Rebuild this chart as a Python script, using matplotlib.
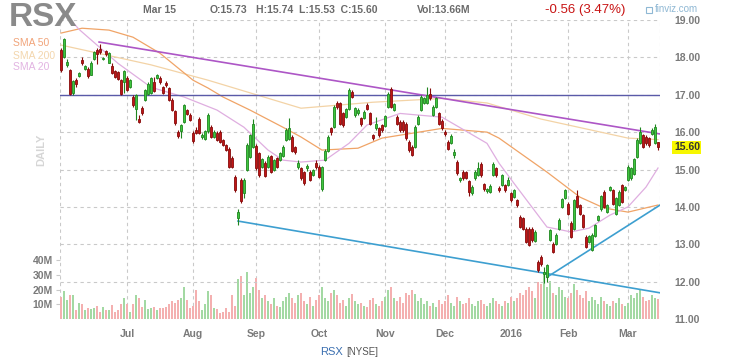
import matplotlib
matplotlib.use("Agg")
import matplotlib.pyplot as plt
from matplotlib.patches import Rectangle
import numpy as np

plt.rcParams["font.family"] = ["Liberation Sans", "DejaVu Sans"]

W, H = 734, 364

# daily candles, 2015-06-01 .. 2016-03-15 (index = trading day)
opens = [18.19, 18.01, 17.80, 17.65, 17.05, 17.40, 17.50, 17.94, 17.70, 17.70,
         17.54, 17.96, 18.19, 18.23, 17.95, 18.16, 17.86, 17.77, 17.63, 17.61,
         17.39, 17.34, 17.46, 17.21, 16.94, 16.63, 16.36, 16.65, 16.87, 17.03,
         17.06, 17.35, 17.46, 17.45, 17.20, 17.32, 17.19, 16.87, 16.56, 16.00,
         16.02, 16.28, 16.59, 16.45, 15.98, 16.07, 16.35, 15.88, 15.82, 16.02,
         16.15, 15.88, 15.97, 16.01, 15.79, 15.65, 15.56, 15.30, 14.81, 13.70,
         14.72, 14.36, 15.00, 15.34, 15.61, 15.63, 15.43, 15.08, 15.17, 15.08,
         15.36, 15.00, 15.30, 15.25, 15.36, 15.79, 15.81, 15.88, 15.59, 15.08,
         15.03, 14.92, 15.03, 14.94, 14.85, 15.17, 15.08, 14.47, 15.25, 15.50,
         16.10, 16.15, 16.79, 16.77, 16.50, 16.41, 16.63, 17.08, 16.45, 16.50,
         16.37, 16.37, 16.72, 16.50, 15.92, 16.10, 16.10, 16.19, 16.16, 16.68,
         17.16, 16.60, 16.41, 16.28, 16.28, 16.23, 15.74, 15.61, 15.61, 16.23,
         16.59, 16.77, 16.77, 17.03, 16.47, 16.68, 16.50, 16.30, 16.01, 15.74,
         15.70, 15.40, 15.21, 14.72, 14.94, 14.92, 14.69, 14.36, 14.76, 14.85,
         15.16, 14.60, 14.42, 14.40, 14.85, 15.03, 14.51, 14.58, 14.58, 14.58,
         14.36, 14.27, 14.18, 13.74, 13.69, 13.42, 13.42, 13.42, 13.09, 12.53,
         12.67, 12.20, 12.13, 13.11, 13.02, 13.02, 13.40, 14.00, 14.23, 14.09,
         13.58, 13.42, 14.29, 14.05, 13.78, 13.20, 13.07, 12.85, 13.22, 13.65,
         13.93, 14.40, 13.87, 14.45, 14.45, 13.82, 14.05, 14.58, 14.45, 14.72,
         14.76, 14.88, 15.34, 15.70, 15.92, 15.88, 15.83, 15.96, 15.70, 15.73]
highs = [18.25, 18.52, 17.95, 17.70, 17.40, 17.45, 17.62, 18.00, 17.80, 17.74,
         17.90, 18.17, 18.24, 18.35, 18.00, 18.20, 18.15, 17.86, 17.66, 17.64,
         17.42, 17.67, 17.50, 17.42, 16.98, 17.02, 16.45, 16.70, 17.16, 17.33,
         17.48, 17.48, 17.55, 17.49, 17.24, 17.36, 17.22, 16.90, 16.60, 16.05,
         16.22, 16.76, 16.63, 16.50, 16.02, 16.15, 16.40, 15.97, 16.05, 16.50,
         16.20, 16.05, 16.02, 16.06, 15.82, 15.68, 15.60, 15.35, 14.85, 13.95,
         14.78, 14.76, 15.70, 15.96, 16.34, 15.68, 15.48, 15.32, 15.22, 15.38,
         15.40, 15.29, 15.34, 15.47, 15.65, 16.10, 16.37, 15.92, 15.63, 15.25,
         15.07, 14.96, 15.15, 14.98, 15.02, 15.25, 15.12, 15.10, 15.54, 15.92,
         16.15, 16.72, 16.83, 16.81, 16.54, 16.65, 17.17, 17.12, 16.68, 16.64,
         16.41, 16.58, 16.77, 16.54, 15.95, 16.40, 16.14, 16.23, 16.47, 17.07,
         17.20, 16.78, 16.45, 16.32, 16.32, 16.27, 15.78, 15.65, 16.18, 16.45,
         16.99, 16.94, 17.21, 17.17, 16.72, 16.94, 16.54, 16.34, 16.05, 15.78,
         15.94, 15.55, 15.25, 14.80, 14.98, 14.96, 14.73, 14.58, 14.98, 15.19,
         15.20, 14.64, 14.51, 14.60, 15.20, 15.07, 14.55, 14.89, 14.62, 14.81,
         14.40, 14.49, 14.22, 13.78, 13.73, 13.46, 13.46, 13.46, 13.37, 12.57,
         12.71, 12.40, 12.48, 13.42, 13.06, 13.29, 13.69, 14.24, 14.49, 14.13,
         13.62, 14.22, 14.45, 14.09, 13.82, 13.24, 13.26, 13.29, 13.55, 13.79,
         14.33, 14.44, 14.09, 14.56, 14.49, 14.27, 14.44, 14.62, 14.56, 15.11,
         15.08, 15.31, 15.83, 16.14, 15.96, 15.92, 15.87, 16.11, 16.23, 15.74]
lows = [17.62, 17.98, 17.75, 16.98, 16.99, 17.22, 17.47, 17.80, 17.66, 17.46,
        17.52, 17.92, 17.83, 18.10, 17.93, 18.05, 17.84, 17.56, 17.45, 17.40,
        17.00, 17.05, 17.10, 17.18, 16.68, 16.32, 16.25, 16.46, 16.84, 17.00,
        17.03, 17.07, 17.43, 17.30, 17.01, 17.22, 16.84, 16.57, 16.20, 15.85,
        15.85, 16.25, 16.45, 16.29, 15.72, 15.95, 15.95, 15.82, 15.78, 15.98,
        15.85, 15.85, 15.76, 15.70, 15.62, 15.49, 15.03, 15.03, 14.40, 13.52,
        14.10, 14.25, 14.95, 15.30, 15.58, 14.98, 14.80, 15.05, 14.80, 15.05,
        14.90, 14.96, 15.05, 15.22, 15.33, 15.76, 15.78, 15.46, 15.42, 15.02,
        14.72, 14.58, 14.95, 14.68, 14.82, 15.02, 14.77, 14.43, 15.22, 15.47,
        15.92, 16.12, 16.62, 16.19, 16.15, 16.38, 16.60, 16.91, 16.40, 16.47,
        16.17, 16.34, 16.59, 16.19, 15.78, 16.07, 15.88, 16.01, 16.13, 16.65,
        16.64, 16.57, 16.19, 16.01, 16.01, 15.79, 15.48, 15.35, 15.58, 16.20,
        16.56, 16.74, 16.74, 16.86, 16.44, 16.65, 16.19, 16.06, 15.90, 15.52,
        15.67, 15.30, 14.86, 14.66, 14.72, 14.74, 14.30, 14.32, 14.73, 14.82,
        14.81, 14.43, 14.36, 14.37, 14.82, 14.81, 14.41, 14.55, 14.41, 14.55,
        14.14, 14.24, 14.01, 13.43, 13.38, 13.03, 12.94, 13.07, 13.06, 12.27,
        12.43, 11.95, 12.00, 13.08, 12.76, 12.99, 13.37, 13.97, 14.20, 13.78,
        13.16, 13.39, 13.96, 13.78, 13.43, 12.89, 13.04, 12.82, 13.19, 13.62,
        13.90, 13.96, 13.84, 14.42, 14.05, 13.79, 14.02, 14.10, 14.42, 14.69,
        14.72, 14.85, 15.31, 15.67, 15.57, 15.66, 15.61, 15.93, 15.67, 15.53]
closes = [17.67, 18.50, 17.88, 17.03, 17.38, 17.28, 17.58, 17.85, 17.77, 17.49,
          17.86, 18.14, 18.10, 18.14, 17.97, 18.08, 18.12, 17.59, 17.48, 17.43,
          17.03, 17.64, 17.14, 17.39, 16.72, 17.00, 16.28, 16.50, 17.13, 17.30,
          17.46, 17.10, 17.52, 17.33, 17.04, 17.25, 16.87, 16.60, 16.24, 15.90,
          16.19, 16.72, 16.48, 16.32, 15.75, 15.98, 15.98, 15.93, 16.02, 16.45,
          15.88, 16.01, 15.79, 15.74, 15.65, 15.52, 15.07, 15.07, 14.45, 13.87,
          14.15, 14.72, 15.65, 15.92, 16.23, 15.03, 14.85, 15.27, 14.83, 15.33,
          14.94, 15.25, 15.08, 15.43, 15.61, 16.06, 16.10, 15.50, 15.46, 15.18,
          14.76, 14.63, 15.09, 14.72, 14.98, 15.06, 14.81, 15.07, 15.50, 15.88,
          16.01, 16.68, 16.66, 16.23, 16.19, 16.61, 17.13, 16.95, 16.65, 16.60,
          16.21, 16.54, 16.63, 16.23, 15.85, 16.23, 15.92, 16.05, 16.43, 17.03,
          16.68, 16.74, 16.23, 16.05, 16.05, 15.83, 15.52, 15.39, 16.14, 16.41,
          16.95, 16.90, 16.99, 16.90, 16.68, 16.90, 16.23, 16.10, 15.94, 15.56,
          15.90, 15.47, 14.90, 14.76, 14.76, 14.78, 14.39, 14.54, 14.94, 15.03,
          14.85, 14.47, 14.47, 14.56, 15.16, 14.85, 14.45, 14.85, 14.45, 14.72,
          14.18, 14.45, 14.05, 13.47, 13.42, 13.07, 12.98, 13.11, 13.33, 12.31,
          12.47, 12.26, 12.44, 13.38, 12.80, 13.25, 13.65, 14.20, 14.45, 13.82,
          13.20, 14.18, 14.00, 13.82, 13.47, 12.93, 13.22, 13.25, 13.51, 13.75,
          14.29, 14.00, 14.05, 14.52, 14.09, 14.23, 14.40, 14.14, 14.52, 15.07,
          15.04, 15.27, 15.79, 16.01, 15.61, 15.70, 15.65, 16.07, 16.14, 15.60]
volumes = [15, 19, 13, 16, 16, 6, 11, 10, 6, 7.5,
           7, 7.5, 9, 5, 8.5, 6, 6, 9.5, 5, 6,
           10, 14, 10, 5, 10, 16.5, 14, 8.5, 13, 7,
           7.5, 8.5, 6, 7.5, 7.5, 8, 10, 12, 11, 13,
           14, 21.5, 13, 7.5, 9, 20, 12.5, 6, 10, 19,
           16.5, 7.5, 7, 4, 5, 7.5, 5, 16.5, 9, 27,
           29, 16, 32, 18, 22, 28, 20, 14, 16, 12,
           10, 14, 9, 8, 12, 15, 18, 14, 11, 16,
           18, 12, 10, 15, 9, 13, 16, 22, 14, 12,
           18, 20, 16, 11, 13, 9, 14, 17, 12, 10,
           11, 9, 8, 13, 14, 10, 9, 12, 15, 20,
           22, 14, 12, 15, 11, 18, 16, 20, 17, 12,
           14, 10, 12, 9, 11, 8, 13, 10, 12, 16,
           11, 9, 15, 12, 10, 11, 14, 10, 9, 12,
           13, 10, 9, 11, 14, 12, 10, 9, 12, 11,
           15, 12, 14, 18, 16, 20, 22, 19, 14, 25,
           24, 30, 22, 26, 18, 16, 22, 20, 15, 14,
           18, 24, 20, 16, 14, 19, 12, 15, 13, 10,
           15, 12, 10, 9, 12, 11, 14, 10, 9, 11,
           16, 14, 18, 20, 15, 12, 13, 16, 14, 13.66]

# moving averages (index, value)
sma50_idx = [0, 7, 16, 24, 33, 44, 49, 54, 63, 74, 80, 87, 99, 107, 127, 142, 146, 162, 173, 181, 189, 199]
sma50_val = [18.65, 18.78, 18.73, 18.54, 18.11, 17.39, 17.18, 16.94, 16.59, 16.13, 15.87, 15.52, 15.57,
             15.84, 16.10, 16.00, 15.84, 14.93, 14.26, 13.97, 13.86, 14.05]
sma200_idx = [0, 30, 49, 80, 104, 127, 142, 160, 189, 199]
sma200_val = [18.33, 17.80, 17.39, 16.64, 16.80, 16.90, 16.78, 16.35, 15.84, 15.80]
sma20_idx = [0, 6, 19, 30, 41, 52, 61, 69, 74, 80, 88, 96, 102, 113, 127, 142, 146, 151, 162, 170, 176,
             183, 189, 195, 199]
sma20_val = [19.30, 18.75, 17.84, 17.20, 16.94, 16.59, 16.13, 15.52, 15.25, 15.20, 15.25, 15.70, 16.19,
             16.50, 16.40, 15.70, 15.17, 14.63, 13.46, 13.33, 13.43, 13.78, 14.00, 14.53, 15.04]

# drawn trendlines (index, price)
resist_idx = [12.7, 199.7]
resist_val = [18.41, 15.95]
support_idx = [59, 199.7]
support_val = [13.62, 11.70]
rising_idx = [162, 199.7]
rising_val = [12.12, 14.05]
level_17 = 17.00

month_idx = [22, 44, 65, 86, 108, 128, 150, 169, 189]
month_lbl = ["Jul", "Aug", "Sep", "Oct", "Nov", "Dec", "2016", "Feb", "Mar"]
price_ticks = [11, 12, 13, 14, 15, 16, 17, 18, 19]
vol_ticks = [10, 20, 30, 40]

GRID = "#c9c9c9"
GREEN_F, GREEN_E = "#3fc63f", "#1f861f"
RED_F, RED_E = "#bf1616", "#870b0b"
TXT = "#7a7a7a"


def fx(x):
    return x / W


def fy(y):
    return 1 - y / H


fig = plt.figure(figsize=(W / 100, H / 100), dpi=100)
rect = [fx(60), fy(319), 600 / W, 299 / H]

n = len(closes)
idx = np.arange(n)
xlim = (-1 / 3, 599 / 3)

# volume layer (bottom) with the grid
axv = fig.add_axes(rect)
axv.set_xlim(*xlim)
axv.set_ylim(0, 299 / 1.47)
up = [c >= o for o, c in zip(opens, closes)]
axv.bar(idx, volumes, width=0.9, color=["#a3d9a3" if u else "#f4b0b0" for u in up], zorder=2)
for m in month_idx:
    axv.axvline(m, color=GRID, lw=0.8, ls=(0, (3, 3)), zorder=1)
for xb in xlim:
    axv.axvline(xb, color=GRID, lw=0.8, ls=(0, (3, 3)), zorder=1)
axv.set_xticks(month_idx)
axv.set_xticklabels(month_lbl, fontsize=7.5, fontweight="bold", color=TXT)
axv.tick_params(axis="x", length=0, pad=7)
axv.set_yticks(vol_ticks)
axv.set_yticklabels([f"{v}M" for v in vol_ticks], fontsize=7.5, fontweight="bold", color=TXT)
axv.tick_params(axis="y", length=3, color=GRID, pad=2)
for s in axv.spines.values():
    s.set_visible(False)

# price layer
ax = fig.add_axes(rect, sharex=axv)
ax.patch.set_alpha(0)
ax.set_ylim(11, 19)
for p in price_ticks:
    ax.axhline(p, color=GRID, lw=0.8, ls=(0, (3, 3)), zorder=1)

ax.plot(sma200_idx, sma200_val, color="#f3d3a6", lw=0.9, zorder=2)
ax.plot(sma50_idx, sma50_val, color="#f0a467", lw=0.9, zorder=2)
ax.plot(sma20_idx, sma20_val, color="#dfaee0", lw=0.9, zorder=2)

ax.axhline(level_17, color="#5a5aa8", lw=1.0, zorder=3)
ax.plot(resist_idx, resist_val, color="#ad56c6", lw=1.2, zorder=3)
ax.plot(support_idx, support_val, color="#3d9fd0", lw=1.2, zorder=3)
ax.plot(rising_idx, rising_val, color="#3d9fd0", lw=1.2, zorder=3)

edge = [GREEN_E if u else RED_E for u in up]
face = [GREEN_F if u else RED_F for u in up]
ax.vlines(idx, lows, highs, colors=edge, lw=0.8, zorder=4)
bottoms = [min(o, c) for o, c in zip(opens, closes)]
heights = [max(abs(c - o), 0.03) for o, c in zip(opens, closes)]
ax.bar(idx, heights, bottom=bottoms, width=0.8, color=face, edgecolor=edge, linewidth=0.6, zorder=5)

ax.yaxis.tick_right()
ax.set_yticks(price_ticks)
ax.set_yticklabels([f"{p:.2f}" for p in price_ticks], fontsize=7.5, fontweight="bold", color=TXT)
ax.tick_params(axis="y", length=0, pad=10)
ax.tick_params(axis="x", length=0, labelbottom=False)
for s in ax.spines.values():
    s.set_visible(False)

# last price tag
ax.annotate(f"{closes[-1]:.2f}", xy=(1, closes[-1]), xycoords=("axes fraction", "data"),
            xytext=(10, 0), textcoords="offset points", va="center", ha="left",
            fontsize=7.5, fontweight="bold", color="#333333",
            bbox=dict(boxstyle="square,pad=0.15", fc="#f7f700", ec="none"))

# header texts
fig.text(fx(9), fy(17), "RSX", fontsize=24, fontweight="bold", color="#8a8a8a", va="center")
fig.text(fx(143), fy(10), "Mar 15", fontsize=7.5, fontweight="bold", color="#6a6a6a", va="center")
fig.text(fx(210), fy(10), "O:15.73", fontsize=7.5, fontweight="bold", color="#6a6a6a", va="center")
fig.text(fx(256), fy(10), "H:15.74  L:15.53  C:15.60", fontsize=7.5, fontweight="bold", color="#6a6a6a",
         va="center")
fig.text(fx(417), fy(10), "Vol:13.66M", fontsize=7.5, fontweight="bold", color="#6a6a6a", va="center")
fig.text(fx(545), fy(10), "-0.56 (3.47%)", fontsize=9.5, color="#c81414", va="center")
fig.add_artist(Rectangle((fx(646), fy(13)), 6 / W, 6 / H, transform=fig.transFigure,
                         fill=False, ec="#8fb8d4", lw=0.8))
fig.text(fx(655), fy(9), "finviz.com", fontsize=7, color="#8fb8d4", va="center")

fig.text(fx(13), fy(43), "SMA 50", fontsize=7.5, color="#f1a47a", va="center")
fig.text(fx(13), fy(56), "SMA 200", fontsize=7.5, color="#f3d6ad", va="center")
fig.text(fx(13), fy(67), "SMA 20", fontsize=7.5, color="#e2b4e2", va="center")
fig.text(fx(41), fy(150), "DAILY", fontsize=8, fontweight="bold", color="#d6d6d6", rotation=90,
         ha="center", va="center")

fig.text(fx(343), fy(352), "RSX", fontsize=8, color="#3b6fb0", ha="right", va="center")
fig.text(fx(346), fy(352), "[NYSE]", fontsize=7, color="#555555", ha="left", va="center")

fig.savefig("out.png", dpi=100)
